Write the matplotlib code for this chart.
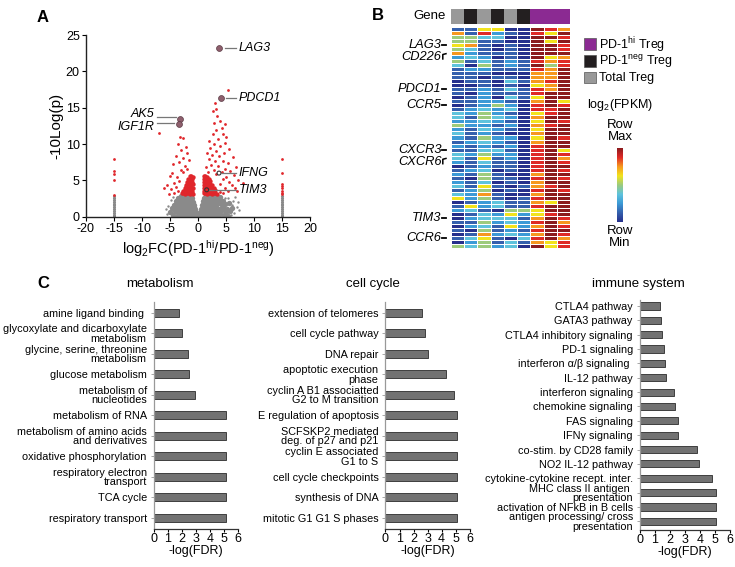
import matplotlib
matplotlib.use('Agg')
import matplotlib.pyplot as plt
import numpy as np
from matplotlib.colors import LinearSegmentedColormap, ListedColormap
from matplotlib.patches import Rectangle

plt.rcParams['font.family'] = ['Liberation Sans', 'DejaVu Sans']
plt.rcParams['mathtext.fontset'] = 'custom'
plt.rcParams['mathtext.rm'] = 'Liberation Sans'
plt.rcParams['mathtext.it'] = 'Liberation Sans:italic'
plt.rcParams['axes.unicode_minus'] = False

# ---------------- Panel A data (volcano) ----------------
gray_core = [
    (-4.4,0.3),(-3.8,0.15),(-3.3,0.4),(-2.8,0.2),(-2.4,0.35),(-2.0,0.12),(-1.6,0.3),(-1.2,0.2),(-0.8,0.4),(-0.45,0.15),(-0.25,0.05),
    (0.25,0.1),(0.5,0.3),(0.9,0.15),(1.3,0.4),(1.7,0.2),(2.1,0.35),(2.6,0.1),(3.0,0.3),(3.5,0.2),(4.0,0.4),(4.6,0.25),(5.3,0.15),
    (-5.0,0.7),(-4.1,0.8),(-3.6,0.6),(-3.1,0.85),(-2.6,0.65),(-2.2,0.9),(-1.8,0.6),(-1.4,0.8),(-1.0,0.65),(-0.6,0.85),(-0.4,0.55),
    (0.4,0.6),(0.7,0.85),(1.1,0.6),(1.5,0.8),(1.9,0.65),(2.3,0.9),(2.8,0.6),(3.3,0.8),(3.8,0.7),(4.3,0.9),(5.0,0.6),(5.8,0.8),
    (-4.6,1.2),(-3.9,1.05),(-3.4,1.35),(-2.9,1.1),(-2.4,1.3),(-2.0,1.05),(-1.6,1.25),(-1.2,1.1),(-0.8,1.35),(-0.6,1.05),
    (0.6,1.1),(0.85,1.35),(1.2,1.05),(1.6,1.3),(2.0,1.1),(2.5,1.35),(2.9,1.05),(3.4,1.25),(3.9,1.1),(4.5,1.3),(5.2,1.0),(6.1,1.2),
    (-4.3,1.6),(-3.7,1.8),(-3.2,1.55),(-2.7,1.75),(-2.3,1.5),(-1.9,1.85),(-1.5,1.6),(-1.1,1.75),(-0.75,1.55),
    (0.75,1.6),(1.0,1.85),(1.4,1.55),(1.8,1.8),(2.2,1.5),(2.7,1.75),(3.2,1.6),(3.7,1.85),(4.2,1.55),(4.9,1.7),(5.6,1.9),
    (-4.0,2.2),(-3.5,2.0),(-3.0,2.35),(-2.5,2.1),(-2.1,2.3),(-1.7,2.05),(-1.3,2.25),(-0.95,2.0),
    (0.9,2.1),(1.2,2.35),(1.6,2.05),(2.0,2.3),(2.4,2.1),(2.9,2.35),(3.4,2.05),(3.9,2.25),(4.5,2.1),
    (-3.6,2.6),(-3.1,2.85),(-2.6,2.55),(-2.2,2.8),(-1.8,2.6),(-1.4,2.85),(-1.05,2.55),
    (1.05,2.6),(1.4,2.85),(1.8,2.55),(2.2,2.8),(2.6,2.6),(3.1,2.85),(3.5,2.55),(4.0,2.75),
]
gray_sparse = [(-5.6,0.4),(-5.3,1.5),(-4.9,2.3),(-5.8,1.0),(6.5,0.5),(6.9,1.4),(6.2,2.2),(5.4,2.6),
               (7.1,2.0),(6.6,2.7),(5.9,0.2),(4.8,2.6),(-4.5,2.7),(7.4,0.9),(6.0,1.6)]
edge_y = [0.05,0.3,0.55,0.8,1.05,1.3,1.55,1.8,2.05,2.3,2.55,2.8]
edge_red_left = [2.95,5.05,5.87,6.3,7.9]
edge_red_right = [3.1,3.3,3.6,3.9,4.2,4.5,6.0,8.0]
red_wedge = [
    (-1.5,5.6),(-1.2,5.65),(-0.95,5.5),(-1.7,5.2),(-1.4,5.25),(-1.1,5.15),
    (-1.9,4.8),(-1.6,4.85),(-1.3,4.75),(-1.0,4.8),(-2.1,4.4),(-1.8,4.45),(-1.5,4.35),(-1.2,4.4),(-0.95,4.45),
    (-2.4,4.0),(-2.1,4.05),(-1.8,3.95),(-1.5,4.0),(-1.2,4.05),(-0.95,3.95),
    (-2.6,3.6),(-2.3,3.65),(-2.0,3.55),(-1.7,3.6),(-1.4,3.65),(-1.1,3.55),
    (-2.9,3.2),(-2.6,3.25),(-2.3,3.15),(-2.0,3.2),(-1.7,3.25),(-1.4,3.15),(-1.1,3.2),(-0.9,3.1),
    (1.0,5.6),(1.3,5.65),(1.6,5.5),(1.0,5.2),(1.3,5.25),(1.6,5.15),(1.9,5.2),
    (1.0,4.8),(1.3,4.85),(1.6,4.75),(1.9,4.8),(2.2,4.85),
    (1.0,4.4),(1.3,4.45),(1.6,4.35),(1.9,4.4),(2.2,4.45),(2.5,4.35),
    (1.0,4.0),(1.3,4.05),(1.6,3.95),(1.9,4.0),(2.2,4.05),(2.5,3.95),(2.8,4.0),
    (1.0,3.6),(1.3,3.65),(1.6,3.55),(1.9,3.6),(2.2,3.65),(2.5,3.55),(2.8,3.6),(3.1,3.65),
    (1.0,3.2),(1.3,3.25),(1.6,3.15),(1.9,3.2),(2.2,3.25),(2.5,3.15),(2.8,3.2),(3.1,3.25),(3.4,3.15),
]
red_scatter = [
    (5.3,17.4),(3.0,15.6),(2.6,14.5),(3.3,14.8),(3.4,13.8),(3.9,13.1),(2.8,12.9),(4.9,12.7),(4.2,12.2),(3.3,11.9),
    (2.6,11.4),(4.4,11.4),(5.0,10.9),(3.6,10.7),(1.9,10.4),(4.9,10.1),(2.9,10.0),(4.0,9.7),(2.2,9.5),(5.6,9.3),
    (3.2,9.1),(1.6,8.8),(4.6,8.7),(2.5,8.5),(3.8,8.3),(6.2,8.2),(1.9,7.9),(3.0,7.7),(4.4,7.6),(5.4,7.4),
    (2.4,7.1),(3.6,7.0),(6.8,6.9),(1.5,6.8),(4.8,6.6),(2.8,6.4),(5.8,6.3),(1.8,6.1),(4.2,6.2),(3.3,5.9),
    (6.4,5.7),(5.0,5.5),(7.2,5.0),(4.4,5.2),(5.6,4.8),(4.0,4.5),(6.0,4.3),(4.8,4.0),(5.4,3.6),(3.9,3.4),
    (6.6,3.9),(4.5,3.2),(8.0,4.6),(7.0,3.5),
    (-6.96,11.5),(-3.3,11.0),(-2.6,10.8),(-3.6,10.0),(-2.2,9.6),(-3.0,9.2),(-2.0,8.7),(-3.9,8.4),(-2.7,8.1),
    (-1.6,7.8),(-3.4,7.5),(-4.4,7.2),(-2.3,7.0),(-1.9,6.6),(-3.1,6.4),(-4.7,6.0),(-2.6,6.1),(-5.0,5.6),
    (-3.8,5.4),(-3.4,4.9),(-4.3,4.6),(-5.6,4.3),(-3.9,4.1),(-4.8,3.8),(-3.5,3.5),(-6.0,3.9),(-4.2,3.3),(-5.2,3.1),
]
hl_genes = ['LAG3', 'PDCD1', 'AK5', 'IGF1R']
hl_x = [3.8, 4.05, -3.2, -3.4]
hl_y = [23.2, 16.4, 13.5, 12.7]
open_genes = ['IFNG', 'TIM3']
open_x = [3.75, 1.55]
open_y = [6.0, 3.7]
label_y = {'LAG3': 23.2, 'PDCD1': 16.4, 'AK5': 14.1, 'IGF1R': 12.4, 'IFNG': 6.0, 'TIM3': 3.7}
line_y = {'LAG3': 23.2, 'PDCD1': 16.4, 'AK5': 13.65, 'IGF1R': 12.9, 'IFNG': 6.0, 'TIM3': 3.7}

# ---------------- Panel B data (heatmap) ----------------
heat_rows = [
    "115500876", "617210758", "443300887", "441100858", "561010887",
    "431010887", "621110888", "232010856", "413121767", "304121847",
    "122111768", "111000668", "110110668", "011031678", "001010568",
    "112131768", "102111788", "012031588", "112210685", "012420787",
    "123230778", "324210578", "314320688", "223210587", "422120678",
    "213210588", "312100688", "214220587", "123210688", "212120788",
    "113310785", "324220787", "315120786", "213110787", "012110788",
    "123010787", "214100688", "104110787", "213010688", "315101678",
    "124010787", "326100688", "524101788", "012311658", "152311788",
    "231044588", "013252578", "023331687", "114232786", "023152687",
    "104121788", "016232687", "135103786", "024131657", "434230857",
]
group_codes = [2, 1, 2, 1, 2, 1, 0, 0, 0]   # 0 PD-1hi, 1 PD-1neg, 2 Total
gene_labels = ['LAG3', 'CD226', 'PDCD1', 'CCR5', 'CXCR3', 'CXCR6', 'TIM3', 'CCR6']
gene_rows = [4, 7, 15, 19, 30, 33, 47, 52]
gene_mark = ['-', 'r', '-', '-', '-', 'r', '-', '-']

# ---------------- Panel C data ----------------
met_labels = ['amine ligand binding ', 'glycoxylate and dicarboxylate\nmetabolism',
              'glycine, serine, threonine\nmetabolism', 'glucose metabolism',
              'metabolism of\nnucleotides', 'metabolism of RNA',
              'metabolism of amino acids\nand derivatives', 'oxidative phosphorylation',
              'respiratory electron\ntransport', 'TCA cycle', 'respiratory transport']
met_vals = [1.76, 2.02, 2.43, 2.52, 2.93, 5.1, 5.1, 5.1, 5.1, 5.1, 5.1]

cc_labels = ['extension of telomeres', 'cell cycle pathway', 'DNA repair',
             'apoptotic execution\nphase', 'cyclin A B1 associatted\nG2 to M transition',
             'E regulation of apoptosis', 'SCFSKP2 mediated\ndeg. of p27 and p21',
             'cyclin E associated\nG1 to S', 'cell cycle checkpoints',
             'synthesis of DNA', 'mitotic G1 G1 S phases']
cc_vals = [2.63, 2.8, 3.06, 4.34, 4.86, 5.12, 5.12, 5.12, 5.12, 5.12, 5.12]

imm_labels = ['CTLA4 pathway', 'GATA3 pathway', 'CTLA4 inhibitory signaling', 'PD-1 signaling',
              'interferon \u03b1/\u03b2 signaling ', 'IL-12 pathway', 'interferon signaling',
              'chemokine signaling', 'FAS signaling', 'IFN\u03b3 signaling',
              'co-stim. by CD28 family', 'NO2 IL-12 pathway',
              'cytokine-cytokine recept. inter.', 'MHC class II antigen \npresentation',
              'activation of NFkB in B cells', 'antigen processing/ cross\npresentation']
imm_vals = [1.36, 1.43, 1.48, 1.59, 1.68, 1.77, 2.26, 2.33, 2.55, 2.55, 3.83, 3.96, 4.83, 5.1, 5.1, 5.1]

# ---------------- figure ----------------
W, H = 735, 567
fig = plt.figure(figsize=(W / 100, H / 100), dpi=100)

def box(x0, y0, x1, y1):
    return [x0 / W, 1 - y1 / H, (x1 - x0) / W, (y1 - y0) / H]

GRAY = '#8a8a8a'
RED = '#e0262b'

# Panel A
axA = fig.add_axes(box(86, 35, 310, 216.7))
gx, gy = zip(*gray_core)
axA.scatter(gx, gy, s=15, color=GRAY, linewidths=0, zorder=2)
sx, sy = zip(*gray_sparse)
axA.scatter(sx, sy, s=3, color=GRAY, linewidths=0, zorder=2)
axA.scatter([-15] * len(edge_y), edge_y, s=5, color=GRAY, linewidths=0, zorder=2)
axA.scatter([15] * len(edge_y), edge_y, s=5, color=GRAY, linewidths=0, zorder=2)
axA.scatter([-15] * len(edge_red_left), edge_red_left, s=4, color=RED, linewidths=0, zorder=3)
axA.scatter([15] * len(edge_red_right), edge_red_right, s=4, color=RED, linewidths=0, zorder=3)
wx, wy = zip(*red_wedge)
axA.scatter(wx, wy, s=10, color=RED, linewidths=0, zorder=3)
rx, ry = zip(*red_scatter)
axA.scatter(rx, ry, s=4, color=RED, linewidths=0, zorder=3)
axA.scatter(hl_x, hl_y, s=18, facecolor='#8e5f6d', edgecolor='#5a3a44', linewidths=0.5, zorder=4)
axA.scatter(open_x, open_y, s=8, facecolor='none', edgecolor='#333333', linewidths=0.8, zorder=4)
for g, x in zip(hl_genes + open_genes, hl_x + open_x):
    ly, ty = line_y[g], label_y[g]
    if x > 0:
        axA.plot([x + (1.0 if g in ('LAG3', 'PDCD1') else 0.5), 6.8], [ly, ly], color='#777777', lw=0.9, zorder=3)
        axA.text(7.3, ty, g, style='italic', fontsize=9, va='center', ha='left')
    else:
        axA.plot([x - 0.8, -7.4], [ly, ly], color='#777777', lw=0.9, zorder=3)
        axA.text(-7.8, ty, g, style='italic', fontsize=9, va='center', ha='right')
axA.set_xlim(-20, 20)
axA.set_ylim(0, 25)
axA.set_xticks(np.arange(-20, 21, 5))
axA.set_yticks(np.arange(0, 26, 5))
axA.tick_params(labelsize=9, length=3, width=0.8, pad=1.5)
for s in ['top', 'right']:
    axA.spines[s].set_visible(False)
for s in ['left', 'bottom']:
    axA.spines[s].set_linewidth(1.0)
    axA.spines[s].set_color('#222222')
axA.set_ylabel('-10Log(p)', fontsize=11, labelpad=2)
axA.set_xlabel('log$_2$FC(PD-1$^{\\mathrm{hi}}$/PD-1$^{\\mathrm{neg}}$)', fontsize=10.5, labelpad=2)
fig.text(43 / W, 1 - 18 / H, 'A', fontsize=12, fontweight='bold', ha='center', va='center')

# Panel B heatmap
heat_colors = ['#26308c', '#3560ad', '#3c9ad6', '#5ec3dd', '#9ccb7e', '#f2e41c', '#f79a1f', '#e02a26', '#8b1b1d']
hcmap = LinearSegmentedColormap.from_list('heat', heat_colors)
M = np.array([[int(c) for c in r] for r in heat_rows], dtype=float) / 8.0
axH = fig.add_axes(box(451, 26.7, 570, 248.3))
axH.pcolormesh(M, cmap=hcmap, vmin=0, vmax=1, edgecolors='white', linewidth=0.7)
axH.set_xlim(0, 9)
axH.set_ylim(M.shape[0], 0)
axH.axis('off')
for name, r, mk in zip(gene_labels, gene_rows, gene_mark):
    yc = r + 0.5
    axH.text(-0.72, yc, name, style='italic', fontsize=9.3, ha='right', va='center')
    if mk == '-':
        axH.plot([-0.66, -0.38], [yc, yc], color='k', lw=1.3, clip_on=False)
    else:
        axH.plot([-0.62, -0.62, -0.38], [yc + 0.5, yc - 0.6, yc - 0.8], color='k', lw=1.1, clip_on=False)

axG = fig.add_axes(box(451, 9, 570, 24))
grp_cmap = ListedColormap(['#8b2a92', '#231f20', '#999999'])
axG.pcolormesh(np.array([group_codes]), cmap=grp_cmap, vmin=-0.5, vmax=2.5)
axG.set_xlim(0, 9)
axG.axis('off')
fig.text(446 / W, 1 - 16 / H, 'Gene', fontsize=9.5, ha='right', va='center')
fig.text(378 / W, 1 - 16 / H, 'B', fontsize=12, fontweight='bold', ha='center', va='center')

leg_names = ['PD-1$^{\\mathrm{hi}}$ Treg', 'PD-1$^{\\mathrm{neg}}$ Treg', 'Total Treg']
leg_cols = ['#8b2a92', '#231f20', '#999999']
leg_y = [38.5, 55, 71.7]
for nm, c, y0 in zip(leg_names, leg_cols, leg_y):
    fig.add_artist(Rectangle((584 / W, 1 - (y0 + 11.5) / H), 11.5 / W, 11.5 / H,
                             transform=fig.transFigure, facecolor=c, edgecolor='#555555', lw=0.5))
    fig.text(599 / W, 1 - (y0 + 6.5) / H, nm, fontsize=9, ha='left', va='center')
fig.text(587 / W, 1 - 105 / H, 'log$_2$(FPKM)', fontsize=9, ha='left', va='center')
fig.text(620 / W, 1 - 131.5 / H, 'Row\nMax', fontsize=9.5, ha='center', va='center', linespacing=1.0)
fig.text(620 / W, 1 - 237 / H, 'Row\nMin', fontsize=9.5, ha='center', va='center', linespacing=1.0)
axCB = fig.add_axes(box(617, 148, 623, 222))
axCB.imshow(np.linspace(0, 1, 256)[:, None], cmap=hcmap, aspect='auto', origin='lower')
axCB.axis('off')

# Panel C
fig.text(43 / W, 1 - 284 / H, 'C', fontsize=12, fontweight='bold', ha='center', va='center')

def barpanel(x0, x1, labels, vals, title, tx, y_top, y_bot, first_c, last_c, bh):
    n = len(vals)
    ax = fig.add_axes(box(x0, y_top, x1, y_bot))
    step = (last_c - first_c) / (n - 1)
    ax.barh(np.arange(n), vals, height=bh, color='#727272', edgecolor='#2b2b2b', linewidth=0.6)
    ax.set_xlim(0, 6)
    ax.set_ylim((y_bot - first_c) / step, (y_top - first_c) / step)
    ax.set_yticks(np.arange(n))
    ax.set_yticklabels(labels, fontsize=7.8, linespacing=0.95)
    ax.set_xticks(range(7))
    ax.tick_params(axis='x', labelsize=9, length=2.5, width=0.8, pad=1)
    ax.tick_params(axis='y', length=2, width=0.6, pad=3, color='#999999')
    for s in ['top', 'right']:
        ax.spines[s].set_visible(False)
    ax.spines['left'].set_color('#999999')
    ax.spines['left'].set_linewidth(0.9)
    ax.spines['bottom'].set_color('#333333')
    ax.spines['bottom'].set_linewidth(0.9)
    ax.set_xlabel('-log(FDR)', fontsize=9, labelpad=0)
    fig.text(tx / W, 1 - 284 / H, title, fontsize=9.5, ha='center', va='center')
    return ax

barpanel(153.7, 238.3, met_labels, met_vals, 'metabolism', 160, 301.7, 528.5, 312.7, 517.7, 0.4)
barpanel(385.5, 469.7, cc_labels, cc_vals, 'cell cycle', 373, 301.7, 528.5, 312.7, 517.7, 0.4)
barpanel(639.7, 730, imm_labels, imm_vals, 'immune system', 638, 300, 529.5, 306, 521.3, 0.5)

fig.savefig('out.png', dpi=100)
